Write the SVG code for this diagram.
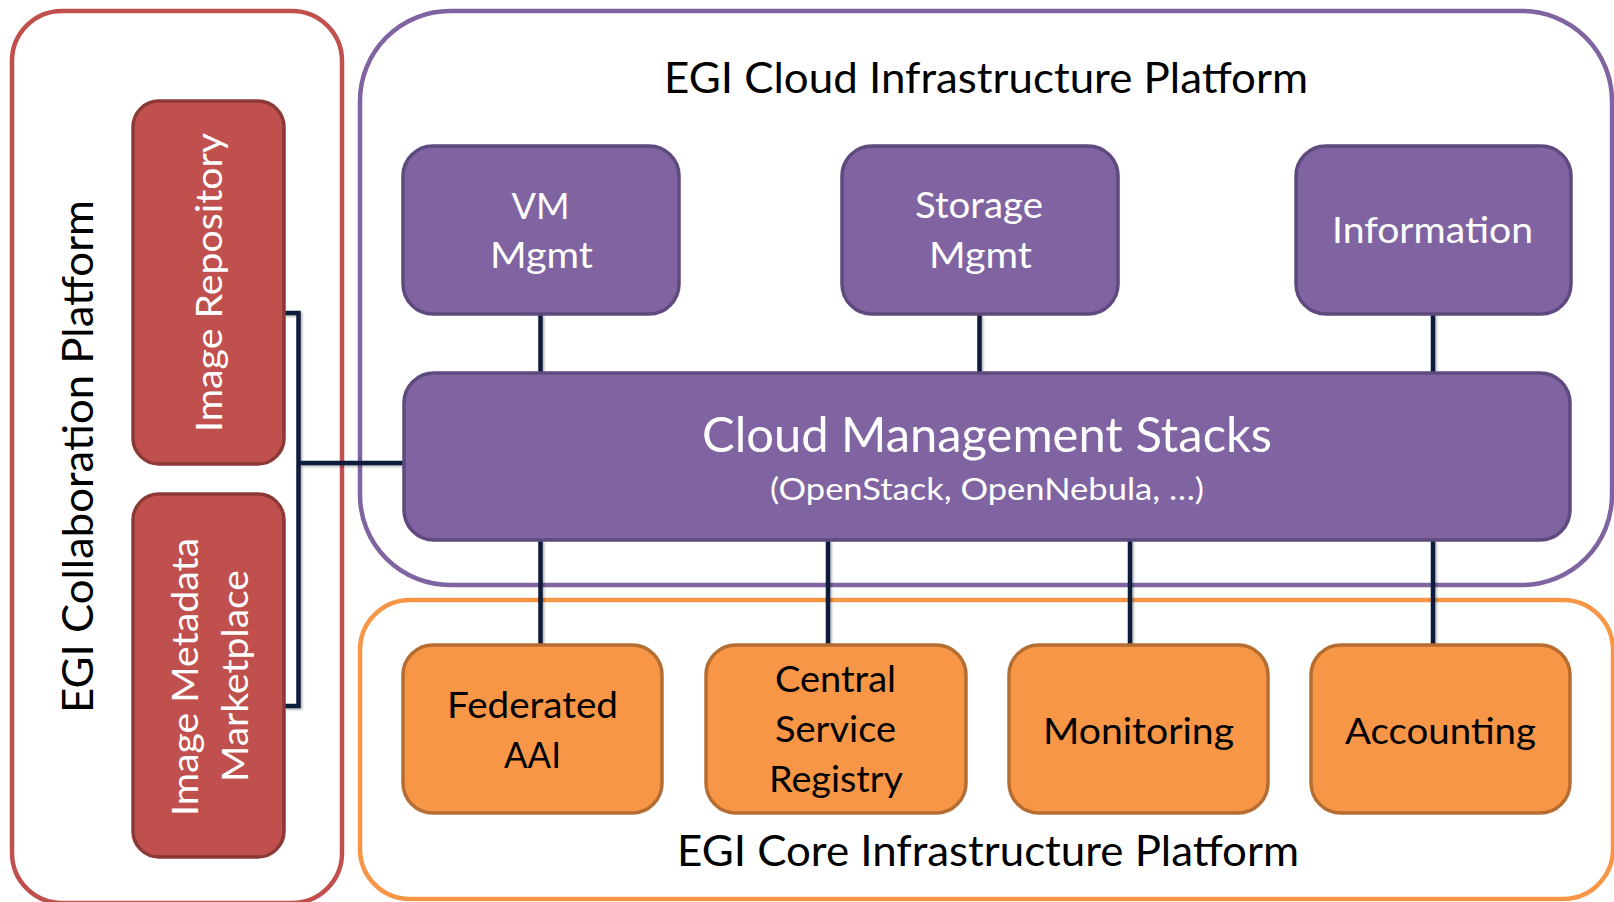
<svg xmlns="http://www.w3.org/2000/svg" width="1614" height="902" viewBox="0 0 1614 902">
<defs>
<style>
text{font-family:Lato,"Open Sans","Liberation Sans",sans-serif;}
.title{font-size:42px;fill:#000;}
.lbl{font-size:37px;text-anchor:middle;}
.w{fill:#fff;}
.k{fill:#000;}
.purple{fill:#8064a2;stroke:#5e4a7e;stroke-width:3.5;}
.orange{fill:#f79646;stroke:#b66d31;stroke-width:3.5;}
.red{fill:#c0504d;stroke:#8c3836;stroke-width:3.5;}
.cont{fill:#fff;stroke-width:4.5;}
.conn{fill:none;stroke:#0e1a3a;stroke-width:4.5;}
</style>
<filter id="sh" x="-20%" y="-20%" width="140%" height="140%">
<feDropShadow dx="1.5" dy="1.5" stdDeviation="1.2" flood-color="#000" flood-opacity="0.3"/>
</filter>
</defs>
<rect width="1614" height="902" fill="#fff"/>

<g id="collab-platform">
<rect class="cont" x="12" y="11" width="330" height="892" rx="50" stroke="#c0504d"/>
<text class="title" text-anchor="middle" transform="translate(93,456.5) rotate(-90)" textLength="513" lengthAdjust="spacingAndGlyphs">EGI Collaboration Platform</text>
</g>
<g id="cloud-platform">
<rect class="cont" x="360" y="11" width="1252" height="574" rx="90" stroke="#8064a2"/>
<text class="title" text-anchor="middle" x="986" y="93" textLength="644" lengthAdjust="spacingAndGlyphs">EGI Cloud Infrastructure Platform</text>
</g>
<g id="core-platform">
<rect class="cont" x="360" y="600" width="1253" height="299" rx="50" stroke="#f79646"/>
<text class="title" text-anchor="middle" x="988" y="866" textLength="622" lengthAdjust="spacingAndGlyphs">EGI Core Infrastructure Platform</text>
</g>

<g id="connectors" filter="url(#sh)">
<path class="conn" d="M540.5,314 V373"/>
<path class="conn" d="M979.5,314 V373"/>
<path class="conn" d="M1433,314 V373"/>
<path class="conn" d="M540.5,540 V645"/>
<path class="conn" d="M828,540 V645"/>
<path class="conn" d="M1130,540 V645"/>
<path class="conn" d="M1433,540 V645"/>
<path class="conn" d="M284,313 H298.5 V706 H284"/>
<path class="conn" d="M298.5,463 H404"/>
</g>

<g id="image-repository">
<rect class="red" x="133" y="101" width="151" height="363" rx="26"/>
<text class="lbl w" transform="translate(222,282.5) rotate(-90)" style="font-size:36px" textLength="299" lengthAdjust="spacingAndGlyphs">Image Repository</text>
</g>
<g id="image-marketplace">
<rect class="red" x="133" y="494" width="151" height="363" rx="26"/>
<text class="lbl w" transform="translate(198,677) rotate(-90)" textLength="278" lengthAdjust="spacingAndGlyphs">Image Metadata</text>
<text class="lbl w" transform="translate(248,676) rotate(-90)" textLength="212" lengthAdjust="spacingAndGlyphs">Marketplace</text>
</g>

<g id="vm-mgmt">
<rect class="purple" x="403" y="146" width="276" height="168" rx="30"/>
<text class="lbl w" x="540.5" y="219" textLength="58" lengthAdjust="spacingAndGlyphs">VM</text>
<text class="lbl w" x="541.5" y="268" textLength="103" lengthAdjust="spacingAndGlyphs">Mgmt</text>
</g>
<g id="storage-mgmt">
<rect class="purple" x="842" y="146" width="276" height="168" rx="30"/>
<text class="lbl w" x="979" y="218" textLength="128" lengthAdjust="spacingAndGlyphs">Storage</text>
<text class="lbl w" x="980.5" y="268" textLength="103" lengthAdjust="spacingAndGlyphs">Mgmt</text>
</g>
<g id="information">
<rect class="purple" x="1296" y="146" width="275" height="168" rx="30"/>
<text class="lbl w" x="1432.5" y="243" textLength="201" lengthAdjust="spacingAndGlyphs">Information</text>
</g>
<g id="cloud-management-stacks">
<rect class="purple" x="404" y="373" width="1166" height="167" rx="30"/>
<text class="lbl w" x="987" y="452" style="font-size:48px" textLength="570" lengthAdjust="spacingAndGlyphs">Cloud Management Stacks</text>
<text class="lbl w" x="987" y="500" style="font-size:30px" textLength="434" lengthAdjust="spacingAndGlyphs">(OpenStack, OpenNebula, …)</text>
</g>

<g id="federated-aai">
<rect class="orange" x="403" y="645" width="259" height="168" rx="30"/>
<text class="lbl k" x="532.5" y="718" textLength="171" lengthAdjust="spacingAndGlyphs">Federated</text>
<text class="lbl k" x="532.5" y="768" textLength="57" lengthAdjust="spacingAndGlyphs">AAI</text>
</g>
<g id="central-service-registry">
<rect class="orange" x="706" y="645" width="260" height="168" rx="30"/>
<text class="lbl k" x="835.5" y="692" textLength="121" lengthAdjust="spacingAndGlyphs">Central</text>
<text class="lbl k" x="835.5" y="742" textLength="121" lengthAdjust="spacingAndGlyphs">Service</text>
<text class="lbl k" x="836" y="792" textLength="134" lengthAdjust="spacingAndGlyphs">Registry</text>
</g>
<g id="monitoring">
<rect class="orange" x="1009" y="645" width="259" height="168" rx="30"/>
<text class="lbl k" x="1138.5" y="744" textLength="191" lengthAdjust="spacingAndGlyphs">Monitoring</text>
</g>
<g id="accounting">
<rect class="orange" x="1311" y="645" width="259" height="168" rx="30"/>
<text class="lbl k" x="1440.5" y="744" textLength="191" lengthAdjust="spacingAndGlyphs">Accounting</text>
</g>
</svg>
